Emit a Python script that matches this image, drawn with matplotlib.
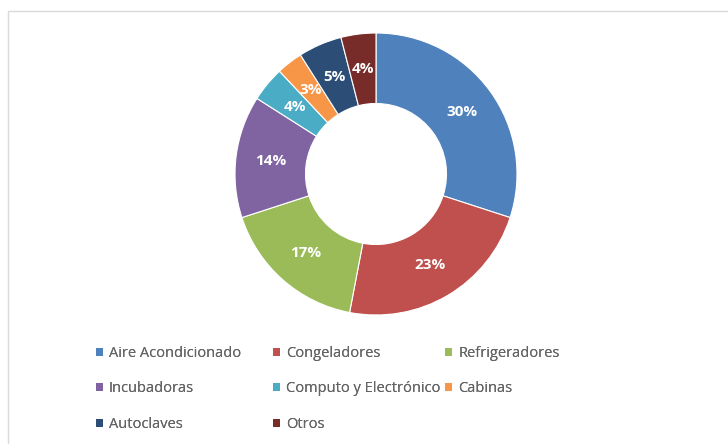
import matplotlib
matplotlib.use("Agg")
import matplotlib.pyplot as plt
from matplotlib.patches import Rectangle

categories = ["Aire Acondicionado", "Congeladores", "Refrigeradores", "Incubadoras",
              "Computo y Electrónico", "Cabinas", "Autoclaves", "Otros"]
shares = [30, 23, 17, 14, 4, 3, 5, 4]
colors = ["#4F81BD", "#C0504D", "#9BBB59", "#8064A2",
          "#4BACC6", "#F79646", "#2C4D75", "#772C2A"]

plt.rcParams["font.family"] = ["Open Sans", "DejaVu Sans"]

W, H = 728, 444
fig = plt.figure(figsize=(W / 100, H / 100), dpi=100)
fig.patch.set_facecolor("white")

# chart frame (open to the right and bottom)
fig.patches.append(Rectangle((8 / W, -0.05), 1.1, 1.05 - 11.5 / H, transform=fig.transFigure,
                             fill=False, edgecolor="#dadada", linewidth=1.0))

cx, cy, r = 376, 174, 141
ax = fig.add_axes([(cx - r) / W, (H - cy - r) / H, 2 * r / W, 2 * r / H])
wedges, texts, autotexts = ax.pie(
    shares, colors=colors, startangle=90, counterclock=False,
    autopct=lambda p: f"{p:.0f}%", pctdistance=0.75,
    wedgeprops=dict(width=0.5, edgecolor="white", linewidth=0.8),
    textprops=dict(color="white", fontsize=11, fontweight="bold"))
ax.set_aspect("equal")
ax.set_xlim(-1, 1)
ax.set_ylim(-1, 1)
ax.axis("off")

# legend laid out row by row, one legend block per column
columns = [[0, 3, 6], [1, 4, 7], [2, 5]]
col_x = [96, 273, 445]
for idx, x0 in zip(columns, col_x):
    leg = fig.legend([wedges[i] for i in idx], [categories[i] for i in idx],
                     loc="upper left", bbox_to_anchor=(x0 / W, 1 - 346 / H),
                     frameon=False, fontsize=10.5, borderpad=0, borderaxespad=0,
                     handlelength=0.5, handleheight=0.5, handletextpad=0.4,
                     labelspacing=1.4, labelcolor="#646464")
    for h in leg.legend_handles:
        h.set_edgecolor("none")
    fig.add_artist(leg)

fig.savefig("out.png", dpi=100)
